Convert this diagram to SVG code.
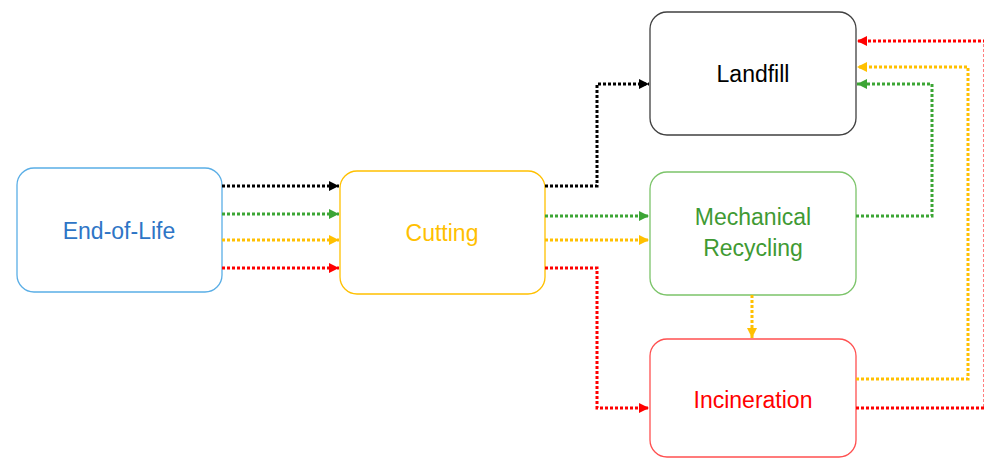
<svg xmlns="http://www.w3.org/2000/svg" width="984" height="459" viewBox="0 0 984 459">
<defs>
<style>
.box{fill:#fff;stroke-width:1.3}
.lbl{font-family:"Liberation Sans",Arial,sans-serif;font-size:23px;text-anchor:middle}
.c{fill:none;stroke-width:3;stroke-dasharray:3 2}
.k{stroke:#000}.g{stroke:#3ca535}.y{stroke:#ffc000}.r{stroke:#ff0000}
</style>
<marker id="ak" viewBox="0 0 10 10" refX="10" refY="5" markerWidth="3.4" markerHeight="3.4" orient="auto" markerUnits="strokeWidth"><path d="M0,0L10,5L0,10z" fill="#000"/></marker>
<marker id="ag" viewBox="0 0 10 10" refX="10" refY="5" markerWidth="3.4" markerHeight="3.4" orient="auto" markerUnits="strokeWidth"><path d="M0,0L10,5L0,10z" fill="#3ca535"/></marker>
<marker id="ay" viewBox="0 0 10 10" refX="10" refY="5" markerWidth="3.4" markerHeight="3.4" orient="auto" markerUnits="strokeWidth"><path d="M0,0L10,5L0,10z" fill="#ffc000"/></marker>
<marker id="ar" viewBox="0 0 10 10" refX="10" refY="5" markerWidth="3.4" markerHeight="3.4" orient="auto" markerUnits="strokeWidth"><path d="M0,0L10,5L0,10z" fill="#ff0000"/></marker>
</defs>
<rect width="984" height="459" fill="#fff"/>
<g id="end-of-life"><rect class="box" x="17" y="168" width="205" height="124" rx="17" stroke="#5aaee6"/><text class="lbl" x="119" y="239" fill="#2e75c6">End-of-Life</text></g>
<g id="cutting"><rect class="box" x="340" y="171" width="205" height="123" rx="17" stroke="#ffc000"/><text class="lbl" x="442" y="241" fill="#ffc000">Cutting</text></g>
<g id="landfill"><rect class="box" x="650" y="12" width="206" height="123" rx="17" stroke="#404040"/><text class="lbl" x="753" y="82" fill="#000">Landfill</text></g>
<g id="mechanical-recycling"><rect class="box" x="650" y="172" width="206" height="123" rx="17" stroke="#7cc46a"/><text class="lbl" x="753" y="225" fill="#3f9a33">Mechanical</text><text class="lbl" x="753" y="256" fill="#3f9a33">Recycling</text></g>
<g id="incineration"><rect class="box" x="650" y="339" width="206" height="118" rx="17" stroke="#ff5050"/><text class="lbl" x="753" y="408" fill="#ff0000">Incineration</text></g>
<g id="connectors">
<path class="c k" d="M222,186H339" marker-end="url(#ak)"/>
<path class="c g" d="M222,214H339" marker-end="url(#ag)"/>
<path class="c y" d="M222,240H339" marker-end="url(#ay)"/>
<path class="c r" d="M222,268H339" marker-end="url(#ar)"/>
<path class="c k" d="M545,186H597V84H649" marker-end="url(#ak)"/>
<path class="c g" d="M545,216H649" marker-end="url(#ag)"/>
<path class="c y" d="M545,240H649" marker-end="url(#ay)"/>
<path class="c r" d="M545,268H597V408H649" marker-end="url(#ar)"/>
<path class="c y" d="M752,295V338" marker-end="url(#ay)"/>
<path class="c g" d="M856,216H932V84H857" marker-end="url(#ag)"/>
<path class="c y" d="M856,379H968V67H857" marker-end="url(#ay)"/>
<path class="c r" d="M856,408H985V41H857" marker-end="url(#ar)"/>
</g>
</svg>
